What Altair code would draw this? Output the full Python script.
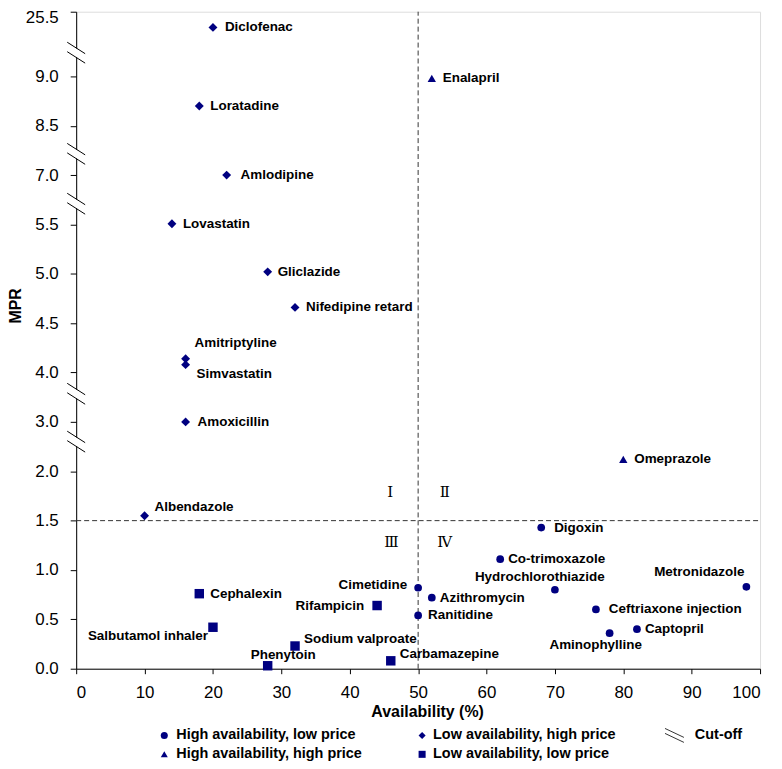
import altair as alt
import numpy as np
import pandas as pd

# ---------------- data ----------------
HALP = "High availability, low price"
HAHP = "High availability, high price"
LAHP = "Low availability, high price"
LALP = "Low availability, low price"
CUT = "Cut-off"

drugs = ["Diclofenac", "Loratadine", "Amlodipine", "Lovastatin", "Gliclazide",
         "Nifedipine retard", "Amitriptyline", "Simvastatin", "Amoxicillin", "Albendazole",
         "Enalapril", "Omeprazole",
         "Digoxin", "Co-trimoxazole", "Cimetidine", "Azithromycin", "Ranitidine",
         "Hydrochlorothiazide", "Ceftriaxone injection", "Aminophylline", "Captopril", "Metronidazole",
         "Cephalexin", "Salbutamol inhaler", "Phenytoin", "Sodium valproate", "Rifampicin", "Carbamazepine"]
availability = [20, 18, 22, 14, 28, 32, 16, 16, 16, 10,
                52, 80,
                68, 62, 50, 52, 50, 70, 76, 78, 82, 98,
                18, 20, 28, 32, 44, 46]
mpr = [21.5, 8.70, 7.00, 5.52, 5.02, 4.66, 4.14, 4.08, 3.00, 1.55,
       8.98, 2.24,
       1.43, 1.11, 0.82, 0.72, 0.54, 0.80, 0.60, 0.36, 0.40, 0.83,
       0.76, 0.42, 0.03, 0.23, 0.64, 0.08]
groups = [LAHP] * 10 + [HAHP] * 2 + [HALP] * 10 + [LALP] * 6

# broken y axis: tick values and their (equally spaced) positions
tick_values = [0.0, 0.5, 1.0, 1.5, 2.0, 3.0, 4.0, 4.5, 5.0, 5.5, 7.0, 8.5, 9.0, 25.5]
tick_labels = ["0.0", "0.5", "1.0", "1.5", "2.0", "3.0", "4.0", "4.5", "5.0", "5.5",
               "7.0", "8.5", "9.0", "25.5"]
tick_pos = [0, 1, 2, 3, 4, 5, 6, 7, 8, 9, 10, 11, 12, 13.31]
break_pos = [12.48, 10.43, 9.42, 5.57, 4.60]

cutoff_availability = [50]
cutoff_mpr = [1.5]

quad_text = ["Ⅰ", "Ⅱ", "Ⅲ", "Ⅳ"]
quad_x = [45.9, 53.9, 46.1, 53.9]
quad_mpr = [1.785, 1.785, 1.28, 1.28]

x_ticks = [0, 10, 20, 30, 40, 50, 60, 70, 80, 90, 100]

legend_groups = [HALP, HAHP, LAHP, LALP]
legend_col = [0, 0, 1, 1]
legend_row = [0, 1, 0, 1]

# ---------------- layout / style ----------------
W, H = 687, 660
Y_TOP = tick_pos[-1]
PX_X = W / 100.0
PX_Y = H / Y_TOP
NAVY = "#000080"
FONT = "Liberation Sans"

# legend layout (pixels relative to plot origin)
LEG_SYM_X = [88.5, 347.5]
LEG_TXT_X = [100.5, 358.5]
LEG_ROW_Y = [727, 746]
CUT_SYM_X, CUT_TXT_X = 601, 621.5

# label placement (pixel offsets from marker, alignment)
label_place = {
    "Diclofenac": (12, 0, "left"), "Loratadine": (11, 0, "left"), "Amlodipine": (14, 0, "left"),
    "Lovastatin": (11, 0, "left"), "Gliclazide": (10, 0, "left"), "Nifedipine retard": (11, 0, "left"),
    "Amitriptyline": (9, -16, "left"), "Simvastatin": (11, 9, "left"), "Amoxicillin": (12, 0, "left"),
    "Albendazole": (10, -9, "left"), "Enalapril": (11, 0, "left"), "Omeprazole": (11, 0, "left"),
    "Digoxin": (13, 0, "left"), "Co-trimoxazole": (8, 0, "left"), "Cimetidine": (-11, -3, "right"),
    "Azithromycin": (8, 0, "left"), "Ranitidine": (10, 0, "left"),
    "Hydrochlorothiazide": (50, -13, "right"), "Ceftriaxone injection": (13, 0, "left"),
    "Aminophylline": (-14, 12, "center"), "Captopril": (8, 0, "left"),
    "Metronidazole": (-2, -15, "right"), "Cephalexin": (11, 0, "left"),
    "Salbutamol inhaler": (-5, 9, "right"), "Phenytoin": (-17, -11, "left"),
    "Sodium valproate": (9, -7, "left"), "Rifampicin": (-13, 0, "right"),
    "Carbamazepine": (9, -7, "left"),
}


def to_pos(v):
    return np.interp(v, tick_values, tick_pos)


df = pd.DataFrame({"drug": drugs, "availability": availability, "mpr": mpr, "group": groups})
df["pos"] = to_pos(df["mpr"])
df["dx"] = [label_place[d][0] for d in drugs]
df["dy"] = [label_place[d][1] for d in drugs]
df["align"] = [label_place[d][2] for d in drugs]
df["lx"] = df["availability"] + df["dx"] / PX_X
df["ly"] = df["pos"] - df["dy"] / PX_Y

shape_domain = [HALP, HAHP, LAHP, LALP]
shape_range = ["circle", "triangle-up", "diamond", "square"]
size_range = [60, 90, 55, 85]
shape_scale = alt.Scale(domain=shape_domain, range=shape_range)

xs = alt.Scale(domain=[0, 100], nice=False, zero=False)
ys = alt.Scale(domain=[0, Y_TOP], nice=False, zero=False)

labels_js = "[" + ",".join("'%s'" % t for t in tick_labels) + "]"
pos_js = "[" + ",".join(str(p) for p in tick_pos) + "]"

x_axis = alt.Axis(values=x_ticks, format="d", title="Availability (%)", grid=False,
                  labelFont=FONT, labelFontSize=17, labelColor="black", labelPadding=11,
                  tickSize=5, tickColor="black", domainColor="black",
                  titleFont=FONT, titleFontSize=16, titleFontWeight="bold", titleColor="black",
                  titleX=352.5, titleY=43, titleBaseline="middle", titleAlign="center")
y_axis = alt.Axis(values=tick_pos, labelExpr=labels_js + "[indexof(" + pos_js + ", datum.value)]",
                  title="MPR", grid=False,
                  labelFont=FONT, labelFontSize=17, labelColor="black", labelPadding=12,
                  labelOffset={"condition": {"test": "datum.value > 13", "value": 6}, "value": 0},
                  tickSize=6, tickColor="black", domainColor="black",
                  titleFont=FONT, titleFontSize=16, titleFontWeight="bold", titleColor="black",
                  titleX=-60.5, titleY=295, titleAngle=270, titleBaseline="middle", titleAlign="center")

base = alt.Chart(df)

points = base.mark_point(filled=True, opacity=1, color=NAVY).encode(
    x=alt.X("availability:Q", scale=xs, axis=x_axis),
    y=alt.Y("pos:Q", scale=ys, axis=y_axis),
    shape=alt.Shape("group:N", scale=shape_scale, legend=None),
    size=alt.Size("group:N", scale=alt.Scale(domain=shape_domain, range=size_range), legend=None),
)


def text_layer(al):
    return base.transform_filter(alt.datum.align == al).mark_text(
        align=al, baseline="middle", font=FONT, fontSize=13.5, fontWeight="bold", color="black"
    ).encode(x=alt.X("lx:Q", scale=xs), y=alt.Y("ly:Q", scale=ys), text="drug:N")


labels = text_layer("left") + text_layer("right") + text_layer("center")

vdf = pd.DataFrame({"x": cutoff_availability, "y": [0.0], "y2": [Y_TOP]})
hdf = pd.DataFrame({"x": [0.0], "x2": [100.0], "y": to_pos(cutoff_mpr)})
vline = alt.Chart(vdf).mark_rule(color="#333333", strokeWidth=1, strokeDash=[5, 3]).encode(
    x=alt.X("x:Q", scale=xs), y=alt.Y("y:Q", scale=ys), y2="y2:Q")
hline = alt.Chart(hdf).mark_rule(color="#333333", strokeWidth=1, strokeDash=[5, 3]).encode(
    x=alt.X("x:Q", scale=xs), x2="x2:Q", y=alt.Y("y:Q", scale=ys))

qdf = pd.DataFrame({"t": quad_text, "x": quad_x, "y": to_pos(quad_mpr)})
quads = alt.Chart(qdf).mark_text(font="Liberation Serif, DejaVu Serif", fontSize=15,
                                 color="black", baseline="middle", align="center").encode(
    x=alt.X("x:Q", scale=xs), y=alt.Y("y:Q", scale=ys), text="t:N")

# axis break marks
bdf = pd.DataFrame({"x": [0.0] * len(break_pos), "y": break_pos})
gap_path = "M-0.3,-0.62L0.3,-0.24L0.3,0.62L-0.3,0.24Z"
line_path = "M-0.9,-1.05L0.9,0.1M-0.9,-0.1L0.9,1.05"
gaps = alt.Chart(bdf).mark_point(filled=True, opacity=1, color="white", shape=gap_path, size=400).encode(
    x=alt.X("x:Q", scale=xs), y=alt.Y("y:Q", scale=ys))
breaks = alt.Chart(bdf).mark_point(filled=False, opacity=1, color="black", strokeWidth=1,
                                   shape=line_path, size=400).encode(
    x=alt.X("x:Q", scale=xs), y=alt.Y("y:Q", scale=ys))

# legend (drawn below the plot)
ldf = pd.DataFrame({
    "group": legend_groups,
    "sx": [LEG_SYM_X[c] for c in legend_col],
    "tx": [LEG_TXT_X[c] for c in legend_col],
    "ty": [LEG_ROW_Y[r] for r in legend_row],
})
leg_sym = alt.Chart(ldf).mark_point(filled=True, opacity=1, color=NAVY, size=50).encode(
    x=alt.X("sx:Q", scale=None, axis=None), y=alt.Y("ty:Q", scale=None, axis=None),
    shape=alt.Shape("group:N", scale=shape_scale, legend=None))
leg_txt = alt.Chart(ldf).mark_text(align="left", baseline="middle", font=FONT, fontSize=14.5,
                                   fontWeight="bold", color="black").encode(
    x=alt.X("tx:Q", scale=None, axis=None), y=alt.Y("ty:Q", scale=None, axis=None), text="group:N")
cdf = pd.DataFrame({"label": [CUT], "sx": [CUT_SYM_X], "tx": [CUT_TXT_X], "ty": [LEG_ROW_Y[0]]})
cut_path = "M-0.95,-0.7L0.95,0.2M-0.95,-0.2L0.95,0.7"
cut_sym = alt.Chart(cdf).mark_point(filled=False, opacity=1, color="#333333", strokeWidth=1,
                                    shape=cut_path, size=400).encode(
    x=alt.X("sx:Q", scale=None, axis=None), y=alt.Y("ty:Q", scale=None, axis=None))
cut_txt = alt.Chart(cdf).mark_text(align="left", baseline="middle", font=FONT, fontSize=14.5,
                                   fontWeight="bold", color="black").encode(
    x=alt.X("tx:Q", scale=None, axis=None), y=alt.Y("ty:Q", scale=None, axis=None), text="label:N")

chart = alt.layer(vline, hline, quads, points, labels, gaps, breaks,
                  leg_sym, leg_txt, cut_sym, cut_txt).properties(
    width=W, height=H, autosize="none",
    padding={"left": 68.5, "top": 2, "right": 14, "bottom": 96},
    background="white",
).configure_view(strokeWidth=0).configure(font=FONT)

chart.save("out.html", embed_options={"renderer": "svg", "actions": False})
